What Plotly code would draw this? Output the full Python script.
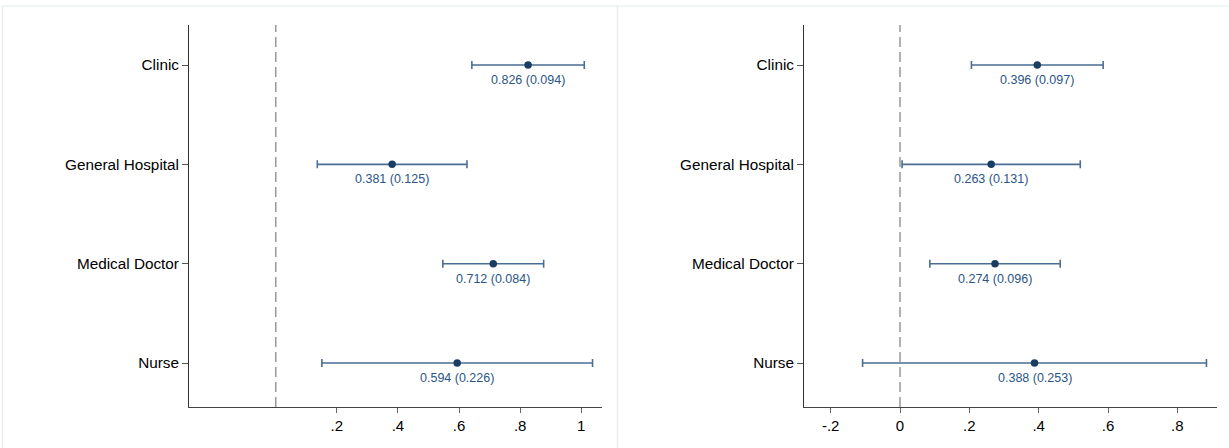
import plotly.graph_objects as go

categories = ["Clinic", "General Hospital", "Medical Doctor", "Nurse"]

# Left panel
left_est = [0.826, 0.381, 0.712, 0.594]
left_se = [0.094, 0.125, 0.084, 0.226]
left_lo = [0.642, 0.136, 0.547, 0.151]
left_hi = [1.010, 0.626, 0.877, 1.037]

# Right panel
right_est = [0.396, 0.263, 0.274, 0.388]
right_se = [0.097, 0.131, 0.096, 0.253]
right_lo = [0.206, 0.006, 0.086, -0.108]
right_hi = [0.586, 0.520, 0.462, 0.884]

left_ticks = [0.2, 0.4, 0.6, 0.8, 1.0]
left_ticktext = [".2", ".4", ".6", ".8", "1"]
right_ticks = [-0.2, 0, 0.2, 0.4, 0.6, 0.8]
right_ticktext = ["-.2", "0", ".2", ".4", ".6", ".8"]

W, H = 1229, 448
FONT = "Liberation Sans, Arial, sans-serif"
LINE_COL = "#4a6e93"
MARK_COL = "#1a3d63"
TEXT_COL = "#2a5585"

fig = go.Figure()

panels = [
    ("x", "y", left_est, left_se, left_lo, left_hi),
    ("x2", "y2", right_est, right_se, right_lo, right_hi),
]
for xa, ya, est, se, lo, hi in panels:
    fig.add_trace(go.Scatter(
        x=est, y=categories, xaxis=xa, yaxis=ya, mode="markers",
        marker=dict(color=MARK_COL, size=7.5),
        error_x=dict(type="data", symmetric=False,
                     array=[h - e for h, e in zip(hi, est)],
                     arrayminus=[e - l for e, l in zip(est, lo)],
                     color=LINE_COL, thickness=1.6, width=4),
        showlegend=False, hoverinfo="skip",
    ))
    for e, s, c in zip(est, se, categories):
        fig.add_annotation(x=e, y=c, xref=xa, yref=ya,
                           text=f"{e:.3f} ({s:.3f})", showarrow=False,
                           yshift=-15, font=dict(family=FONT, size=12.5, color=TEXT_COL))

ydom = [1 - 407 / H, 1 - 25 / H]
cat_order = categories[::-1]
yrange = [-0.443, 3.403]

common_y = dict(type="category", categoryorder="array", categoryarray=cat_order,
                range=yrange, showline=True, linecolor="#333333", linewidth=1,
                ticks="outside", ticklen=6, tickcolor="#555555",
                showgrid=False, zeroline=False,
                tickfont=dict(family=FONT, size=15.3, color="#000000"))
common_x = dict(showline=True, linecolor="#444444", linewidth=1,
                ticks="outside", ticklen=5, tickcolor="#666666",
                showgrid=False, zeroline=False,
                tickfont=dict(family=FONT, size=15, color="#000000"))

fig.update_layout(
    width=W, height=H,
    margin=dict(l=0, r=0, t=0, b=0),
    paper_bgcolor="white", plot_bgcolor="white",
    xaxis=dict(domain=[189 / W, 601.7 / W], range=[-0.284, 1.067],
               tickvals=left_ticks, ticktext=left_ticktext, anchor="y", **common_x),
    yaxis=dict(domain=ydom, anchor="x", **common_y),
    xaxis2=dict(domain=[804 / W, 1216.5 / W], range=[-0.277, 0.913],
                tickvals=right_ticks, ticktext=right_ticktext, anchor="y2", **common_x),
    yaxis2=dict(domain=ydom, anchor="x2", **common_y),
)

# Reference lines at zero
for xa, ya in [("x", "y domain"), ("x2", "y2 domain")]:
    fig.add_shape(type="line", xref=xa, yref=ya, x0=0, x1=0, y0=0, y1=1,
                  line=dict(color="#999999", width=1.5, dash="10px,5px"), layer="below")

# Panel borders
BORDER = "#e4ecee"
fig.add_shape(type="rect", xref="paper", yref="paper",
              x0=2.5 / W, x1=617.5 / W, y0=-0.05, y1=1 - 6 / H,
              line=dict(color=BORDER, width=1.2), layer="below")
fig.add_shape(type="rect", xref="paper", yref="paper",
              x0=617.5 / W, x1=1.05, y0=-0.05, y1=1 - 6 / H,
              line=dict(color=BORDER, width=1.2), layer="below")

fig.write_html("out.html")
